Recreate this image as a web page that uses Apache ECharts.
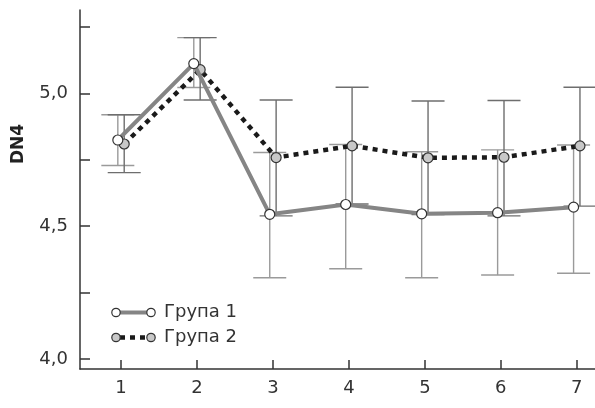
<!DOCTYPE html>
<html><head><meta charset="utf-8">
<script src="https://cdn.jsdelivr.net/npm/echarts@6/dist/echarts.min.js"></script>
<style>html,body{margin:0;padding:0;background:#fff}#c{width:595px;height:408px}</style>
</head><body><div id="c"></div>
<script>
const categories = [1, 2, 3, 4, 5, 6, 7];
const seriesNames = ['Група 1', 'Група 2'];
const g1Mean  = [4.825, 5.113, 4.545, 4.582, 4.547, 4.551, 4.572];
const g1Upper = [4.920, 5.211, 4.778, 4.808, 4.781, 4.788, 4.806];
const g1Lower = [4.729, 5.023, 4.306, 4.340, 4.306, 4.316, 4.323];
const g2Mean  = [4.810, 5.090, 4.759, 4.803, 4.758, 4.760, 4.803];
const g2Upper = [4.920, 5.211, 4.976, 5.024, 4.972, 4.974, 5.024];
const g2Lower = [4.702, 4.976, 4.539, 4.584, 4.544, 4.539, 4.576];
const yTickValues = [4.0, 4.25, 4.5, 4.75, 5.0, 5.25];
const yLabelValues = [4.0, 4.5, 5.0];
const yAxisName = 'DN4';

const FONT = 'DejaVu Sans';
const TXT = '#333';
const OFF = 0.042;
const pts = (mean, off) => categories.map((c, i) => [c + off, mean[i]]);
const bars = (lo, up, off) => categories.map((c, i) => [c + off, lo[i], up[i]]);

function errSeries(data, color, z) {
  return {
    type: 'custom', z: z, silent: true, data: data,
    encode: { x: 0, y: [1, 2] },
    renderItem: function (params, api) {
      const x = api.value(0);
      const lo = api.coord([x, api.value(1)]);
      const hi = api.coord([x, api.value(2)]);
      const hw = 16.5;
      const st = { stroke: color, lineWidth: 1.4 };
      return { type: 'group', children: [
        { type: 'line', shape: { x1: hi[0], y1: hi[1], x2: lo[0], y2: lo[1] }, style: st },
        { type: 'line', shape: { x1: hi[0] - hw, y1: hi[1], x2: hi[0] + hw, y2: hi[1] }, style: st },
        { type: 'line', shape: { x1: lo[0] - hw, y1: lo[1], x2: lo[0] + hw, y2: lo[1] }, style: st }
      ]};
    }
  };
}

const chart = echarts.init(document.getElementById('c'), null, { renderer: 'canvas' });
const axisLineStyle = { color: '#333', width: 1.5 };
chart.setOption({
  animation: false,
  backgroundColor: '#fff',
  grid: { left: 80, right: 0, top: 10, bottom: 39 },
  xAxis: {
    type: 'value', min: 0.46, max: 7.24,
    axisLine: { show: true, lineStyle: axisLineStyle },
    axisTick: { show: true, inside: true, length: 9, customValues: categories, lineStyle: axisLineStyle },
    axisLabel: { customValues: categories, fontSize: 18, color: TXT, fontFamily: FONT, margin: 10 },
    splitLine: { show: false }
  },
  yAxis: {
    type: 'value', min: 3.962, max: 5.315,
    axisLine: { show: true, lineStyle: axisLineStyle },
    axisTick: { show: true, inside: true, length: 10, customValues: yTickValues, lineStyle: axisLineStyle },
    axisLabel: { customValues: yLabelValues, fontSize: 18, color: TXT, fontFamily: FONT, margin: 12,
      formatter: v => v.toFixed(1).replace('.', ',') },
    splitLine: { show: false }
  },
  series: [
    errSeries(bars(g1Lower, g1Upper, -OFF), '#9a9a9a', 1),
    errSeries(bars(g2Lower, g2Upper, OFF), '#6e6e6e', 1),
    {
      name: seriesNames[1], type: 'line', z: 3, data: pts(g2Mean, OFF),
      symbol: 'circle', symbolSize: 10,
      lineStyle: { color: '#1a1a1a', width: 4.5, type: [5, 5] },
      itemStyle: { color: '#c8c8c8', borderColor: '#333', borderWidth: 1.2 }
    },
    {
      name: seriesNames[0], type: 'line', z: 4, data: pts(g1Mean, -OFF),
      symbol: 'circle', symbolSize: 10,
      lineStyle: { color: '#858585', width: 4 },
      itemStyle: { color: '#fff', borderColor: '#333', borderWidth: 1.2 }
    }
  ],
  graphic: [
    { type: 'text', x: 19, y: 144, rotation: Math.PI / 2,
      style: { text: yAxisName, fontFamily: FONT, fontWeight: 'bold', fontSize: 17, fill: '#222',
        textAlign: 'center', textVerticalAlign: 'middle' } },
    { type: 'line', shape: { x1: 116, y1: 312.5, x2: 151, y2: 312.5 }, style: { stroke: '#858585', lineWidth: 4 } },
    { type: 'circle', shape: { cx: 116, cy: 312.5, r: 4.2 }, style: { fill: '#fff', stroke: '#333', lineWidth: 1.2 } },
    { type: 'circle', shape: { cx: 151, cy: 312.5, r: 4.2 }, style: { fill: '#fff', stroke: '#333', lineWidth: 1.2 } },
    { type: 'text', x: 164, y: 312.5, style: { text: seriesNames[0], fontFamily: FONT, fontSize: 18, fill: TXT, textVerticalAlign: 'middle' } },
    { type: 'line', shape: { x1: 120, y1: 337.5, x2: 147, y2: 337.5 }, style: { stroke: '#1a1a1a', lineWidth: 4.5, lineDash: [5, 5] } },
    { type: 'circle', shape: { cx: 116, cy: 337.5, r: 4.2 }, style: { fill: '#c8c8c8', stroke: '#333', lineWidth: 1.2 } },
    { type: 'circle', shape: { cx: 151, cy: 337.5, r: 4.2 }, style: { fill: '#c8c8c8', stroke: '#333', lineWidth: 1.2 } },
    { type: 'text', x: 164, y: 337.5, style: { text: seriesNames[1], fontFamily: FONT, fontSize: 18, fill: TXT, textVerticalAlign: 'middle' } }
  ]
});
</script>
</body></html>
